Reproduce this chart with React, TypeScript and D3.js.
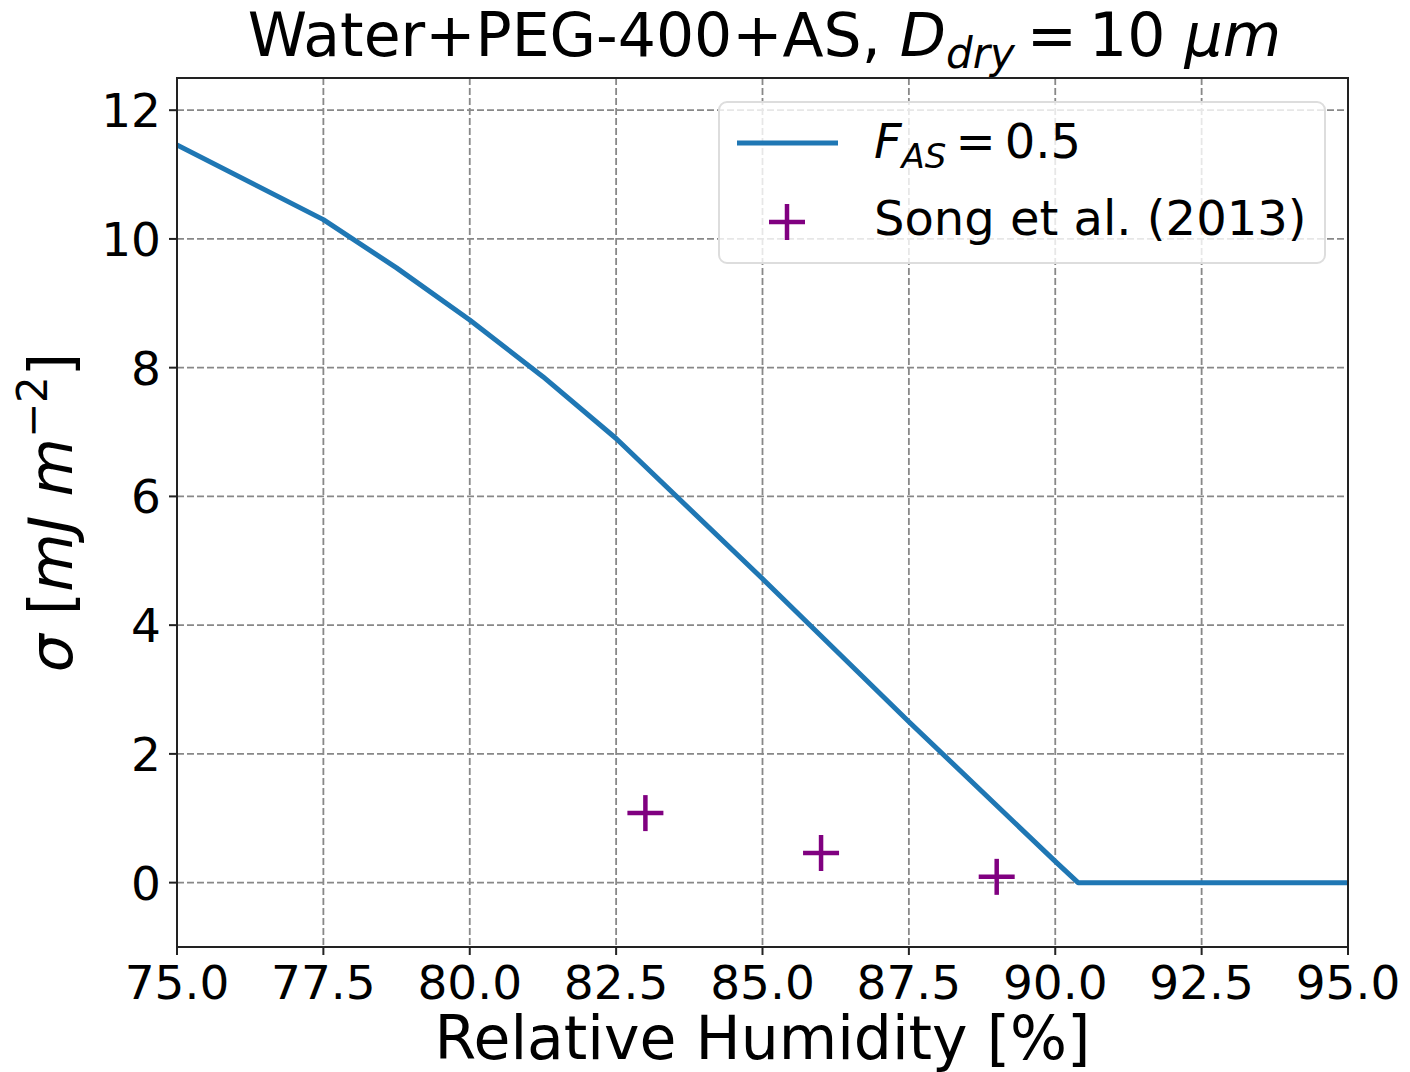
import React from 'react';
import * as d3 from 'd3';

const rhModel = [75, 77.5, 78.75, 80, 81.25, 82.5, 85, 87.5, 90, 90.39, 95];
const sigmaModel = [11.46, 10.3, 9.55, 8.74, 7.86, 6.9, 4.72, 2.5, 0.33, 0.0, 0.0];
const rhSong = [83.0, 86.0, 89.0];
const sigmaSong = [1.08, 0.46, 0.09];
const xTicks = [75, 77.5, 80, 82.5, 85, 87.5, 90, 92.5, 95];
const yTicks = [0, 2, 4, 6, 8, 10, 12];

const W = 1410, H = 1072;
const M = { left: 177, right: 1348, top: 78, bottom: 947 };
const FONT = 'DejaVu Sans';
const BLUE = '#1f77b4';
const PURPLE = '#800080';

export default function App() {
  const x = d3.scaleLinear().domain([75, 95]).range([M.left, M.right]);
  const y = d3.scaleLinear().domain([-1, 12.5]).range([M.bottom, M.top]);
  const pts = rhModel.map((r, i) => [r, sigmaModel[i]] as [number, number]);
  const line = d3.line<[number, number]>().x(d => x(d[0])).y(d => y(d[1]));
  const plus = (cx: number, cy: number, key: string | number) => (
    <g key={key} stroke={PURPLE} strokeWidth={4.5}>
      <line x1={cx - 18} x2={cx + 18} y1={cy} y2={cy} />
      <line x1={cx} x2={cx} y1={cy - 18} y2={cy + 18} />
    </g>
  );
  return (
    <svg width={W} height={H} style={{ position: 'absolute', left: 0, top: 0, background: '#fff' }} fontFamily={FONT}>
      <rect x={0} y={0} width={W} height={H} fill="#fff" />
      <defs>
        <clipPath id="plotclip">
          <rect x={M.left} y={M.top} width={M.right - M.left} height={M.bottom - M.top} />
        </clipPath>
      </defs>
      {/* grid */}
      <g stroke="#888" strokeWidth={1.8} strokeDasharray="7,3">
        {xTicks.map(t => (
          <line key={'gx' + t} x1={x(t)} x2={x(t)} y1={M.top} y2={M.bottom} />
        ))}
        {yTicks.map(t => (
          <line key={'gy' + t} x1={M.left} x2={M.right} y1={y(t)} y2={y(t)} />
        ))}
      </g>
      {/* data */}
      <g clipPath="url(#plotclip)">
        <path d={line(pts) || ''} fill="none" stroke={BLUE} strokeWidth={5} strokeLinejoin="round" />
        {rhSong.map((r, i) => plus(x(r), y(sigmaSong[i]), i))}
      </g>
      {/* spines */}
      <rect x={M.left} y={M.top} width={M.right - M.left} height={M.bottom - M.top} fill="none" stroke="#222" strokeWidth={2} />
      {/* ticks */}
      <g stroke="#222" strokeWidth={2}>
        {xTicks.map(t => (
          <line key={'tx' + t} x1={x(t)} x2={x(t)} y1={M.bottom} y2={M.bottom + 8} />
        ))}
        {yTicks.map(t => (
          <line key={'ty' + t} x1={M.left - 8} x2={M.left} y1={y(t)} y2={y(t)} />
        ))}
      </g>
      <g fontSize={47} fill="#000">
        {xTicks.map(t => (
          <text key={'lx' + t} x={x(t)} y={999} textAnchor="middle">{t.toFixed(1)}</text>
        ))}
        {yTicks.map(t => (
          <text key={'ly' + t} x={161} y={y(t)} dy="0.36em" textAnchor="end">{t}</text>
        ))}
      </g>
      {/* x label */}
      <text x={(M.left + M.right) / 2} y={1059} textAnchor="middle" fontSize={60}>Relative Humidity [%]</text>
      {/* y label */}
      <text transform={`translate(72, ${(M.top + M.bottom) / 2}) rotate(-90)`} textAnchor="middle" fontSize={60}>
        <tspan fontStyle="italic">σ</tspan>
        <tspan> [</tspan>
        <tspan fontStyle="italic">mJ m</tspan>
        <tspan fontSize={42} dy={-25}>−2</tspan>
        <tspan dy={25}>]</tspan>
      </text>
      {/* title */}
      <text x={(M.left + M.right) / 2 + 2} y={56} textAnchor="middle" fontSize={60}>
        <tspan>Water+PEG-400+AS, </tspan>
        <tspan fontStyle="italic">D</tspan>
        <tspan fontStyle="italic" fontSize={42} dy={12}>dry</tspan>
        <tspan dy={-12} dx={12}>=</tspan>
        <tspan dx={12}>10 </tspan>
        <tspan fontStyle="italic">μm</tspan>
      </text>
      {/* legend */}
      <rect x={719} y={102} width={606} height={161} rx={8} fill="#fff" fillOpacity={0.8} stroke="#ddd" strokeWidth={2} />
      <line x1={737} x2={838} y1={143} y2={143} stroke={BLUE} strokeWidth={5} />
      {plus(787, 222, 'leg')}
      <text x={874} y={158} fontSize={48}>
        <tspan fontStyle="italic">F</tspan>
        <tspan fontStyle="italic" fontSize={34} dy={10}>AS</tspan>
        <tspan dy={-10} dx={9}>=</tspan>
        <tspan dx={9}>0.5</tspan>
      </text>
      <text x={874} y={235} fontSize={48}>Song et al. (2013)</text>
    </svg>
  );
}
